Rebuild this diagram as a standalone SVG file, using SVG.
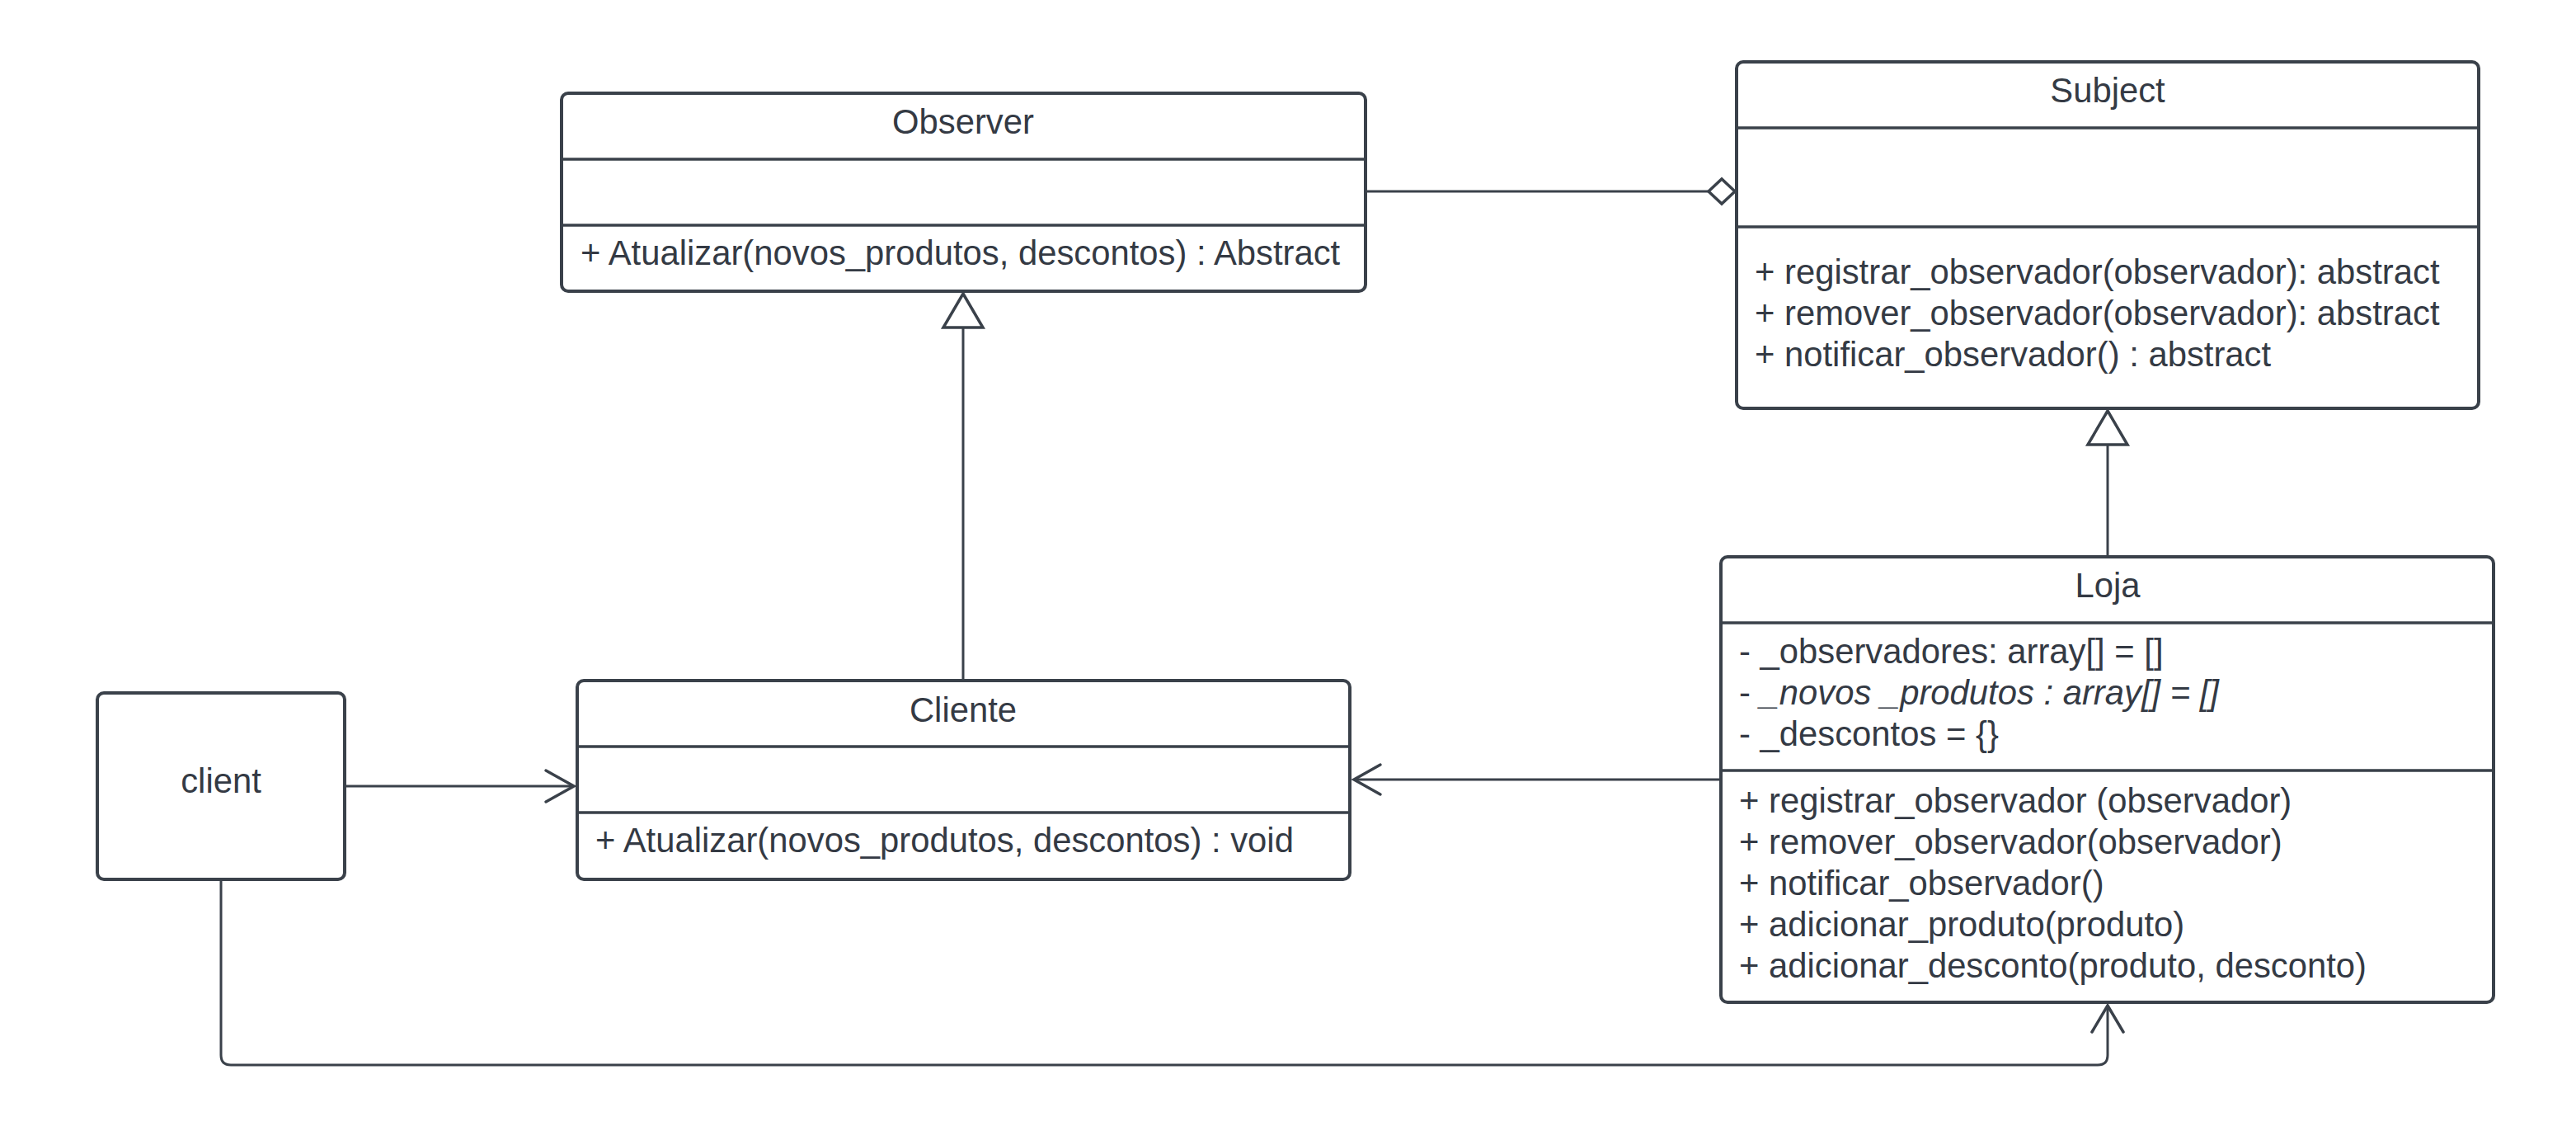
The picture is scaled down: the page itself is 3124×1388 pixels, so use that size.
<svg xmlns="http://www.w3.org/2000/svg" width="3124" height="1388" viewBox="0 0 3124 1388">
<style>
.box{fill:#ffffff;stroke:#3a414a;stroke-width:4}
.div{stroke:#3a414a;stroke-width:3.5;fill:none}
.t{font-family:"Liberation Sans",Arial,sans-serif;font-size:41.8px;fill:#343a44}
.c{text-anchor:middle}
.ln{fill:none;stroke:#3a414a;stroke-width:3}
.head{fill:#ffffff;stroke:#3a414a;stroke-width:3.5;stroke-linejoin:miter}
.open{fill:none;stroke:#3a414a;stroke-width:3.5;stroke-linecap:round;stroke-linejoin:miter}
</style>
<rect width="3124" height="1388" fill="#ffffff"/>
<g id="connectors">
  <path class="ln" d="M1656 232 H2072"/>
  <path class="head" d="M2104 232 L2088 217 L2072 232 L2088 247 Z"/>
  <path class="ln" d="M1168 825 V397"/>
  <path class="head" d="M1168 356 L1192 397 L1144 397 Z"/>
  <path class="ln" d="M2556 675 V539"/>
  <path class="head" d="M2556 498 L2580 539 L2532 539 Z"/>
  <path class="ln" d="M2086 945 H1642"/>
  <path class="open" d="M1674 927 L1642 945 L1674 963"/>
  <path class="ln" d="M418 953 H696"/>
  <path class="open" d="M662 934 L696 953 L662 972"/>
  <path class="ln" d="M268 1066 V1279 Q268 1291 280 1291 H2544 Q2556 1291 2556 1279 V1219"/>
  <path class="open" d="M2537 1251 L2556 1219 L2575 1251"/>
</g>
<g id="observer">
  <rect class="box" x="681" y="113" width="975" height="240" rx="8"/>
  <path class="div" d="M681 193 H1656 M681 273 H1656"/>
  <text class="t c" x="1168" y="162">Observer</text>
  <text class="t" x="704" y="321">+ Atualizar(novos_produtos, descontos) : Abstract</text>
</g>
<g id="subject">
  <rect class="box" x="2106" y="75" width="900" height="420" rx="8"/>
  <path class="div" d="M2106 155 H3006 M2106 275 H3006"/>
  <text class="t c" x="2556" y="124">Subject</text>
  <text class="t" x="2128" y="344">+ registrar_observador(observador): abstract</text>
  <text class="t" x="2128" y="394">+ remover_observador(observador): abstract</text>
  <text class="t" x="2128" y="444">+ notificar_observador() : abstract</text>
</g>
<g id="loja">
  <rect class="box" x="2087" y="675" width="937" height="540" rx="8"/>
  <path class="div" d="M2087 755 H3024 M2087 934 H3024"/>
  <text class="t c" x="2556" y="724">Loja</text>
  <text class="t" x="2109" y="804">- _observadores: array[] = []</text>
  <text class="t" x="2109" y="854">- <tspan font-style="italic">_novos _produtos : array[] = []</tspan></text>
  <text class="t" x="2109" y="904">- _descontos = {}</text>
  <text class="t" x="2109" y="985">+ registrar_observador (observador)</text>
  <text class="t" x="2109" y="1035">+ remover_observador(observador)</text>
  <text class="t" x="2109" y="1085">+ notificar_observador()</text>
  <text class="t" x="2109" y="1135">+ adicionar_produto(produto)</text>
  <text class="t" x="2109" y="1185">+ adicionar_desconto(produto, desconto)</text>
</g>
<g id="cliente">
  <rect class="box" x="700" y="825" width="937" height="241" rx="8"/>
  <path class="div" d="M700 905 H1637 M700 985 H1637"/>
  <text class="t c" x="1168" y="875">Cliente</text>
  <text class="t" x="722" y="1033">+ Atualizar(novos_produtos, descontos) : void</text>
</g>
<g id="client">
  <rect class="box" x="118" y="840" width="300" height="226" rx="8"/>
  <text class="t c" x="268" y="961">client</text>
</g>
</svg>
